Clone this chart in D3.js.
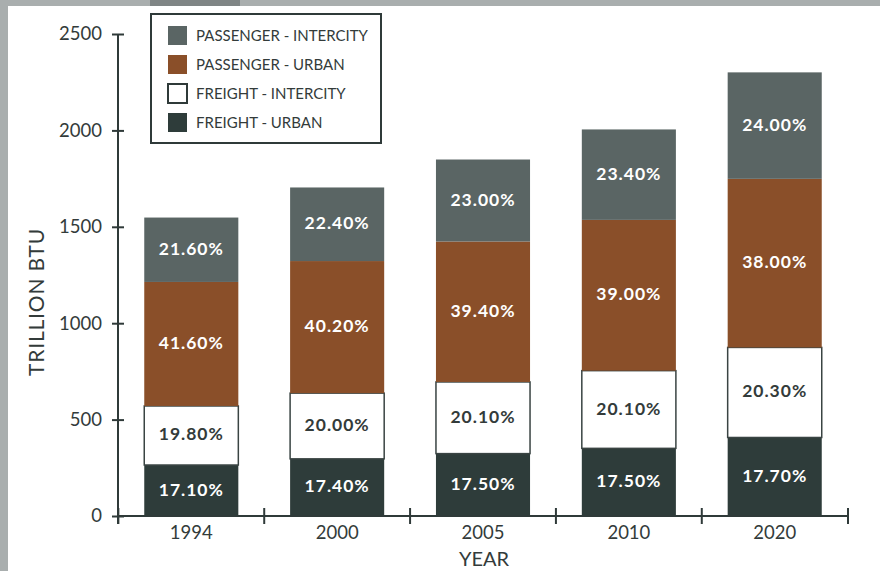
<!DOCTYPE html>
<html>
<head>
<meta charset="utf-8">
<script src="https://cdn.jsdelivr.net/npm/d3@7"></script>
<style>
  body { margin: 0; background: #a9aeae; }
  svg { display: block; font-family: Lato, "Open Sans", sans-serif; }
</style>
</head>
<body>
<svg width="880" height="571"></svg>
<script>
// values
var years = ['1994', '2000', '2005', '2010', '2020'];
var totals = [1548, 1704, 1849, 2005, 2301];          // trillion BTU, bar tops
var freightUrban = [17.1, 17.4, 17.5, 17.5, 17.7];     // % of total
var freightIntercity = [19.8, 20.0, 20.1, 20.1, 20.3];
var passengerUrban = [41.6, 40.2, 39.4, 39.0, 38.0];
var passengerIntercity = [21.6, 22.4, 23.0, 23.4, 24.0];
var yTicks = [0, 500, 1000, 1500, 2000, 2500];

var series = [
  { name: 'FREIGHT - URBAN', pct: freightUrban, fill: '#2e3c3a', text: '#fff' },
  { name: 'FREIGHT - INTERCITY', pct: freightIntercity, fill: '#ffffff', text: '#333b3a' },
  { name: 'PASSENGER - URBAN', pct: passengerUrban, fill: '#8a4f29', text: '#fff' },
  { name: 'PASSENGER - INTERCITY', pct: passengerIntercity, fill: '#5a6564', text: '#fff' }
];

// table for d3.stack: segment values from percentages of total
var table = years.map(function (y, i) {
  var row = { year: y };
  var sum = series.reduce(function (a, s) { return a + s.pct[i]; }, 0);
  series.forEach(function (s) { row[s.name] = totals[i] * s.pct[i] / sum; });
  return row;
});

var svg = d3.select('svg');
var axisCol = '#2f3a39';
var textCol = '#333b3a';

// paper panel
svg.append('rect').attr('width', 880).attr('height', 571).attr('fill', '#a9aeae');
svg.append('rect').attr('x', 150).attr('y', 0).attr('width', 90).attr('height', 6).attr('fill', '#7f8585');
svg.append('rect').attr('x', 8).attr('y', 6).attr('width', 872).attr('height', 565).attr('fill', '#ffffff');

var x = d3.scaleBand().domain(years).range([118, 848]).paddingInner(0.355).paddingOuter(0.18);
var y = d3.scaleLinear().domain([0, 2500]).range([516, 34]);

var stack = d3.stack().keys(series.map(function (s) { return s.name; }));
var layers = stack(table);

var g = svg.append('g');
layers.forEach(function (layer, li) {
  var s = series[li];
  var grp = g.append('g');
  grp.selectAll('rect').data(layer).enter().append('rect')
    .attr('x', function (d) { return x(d.data.year); })
    .attr('y', function (d) { return y(d[1]); })
    .attr('width', x.bandwidth())
    .attr('height', function (d) { return y(d[0]) - y(d[1]); })
    .attr('fill', s.fill)
    .attr('stroke', s.fill === '#ffffff' ? '#3a4443' : 'none')
    .attr('stroke-width', 1.5);
  grp.selectAll('text').data(layer).enter().append('text')
    .attr('x', function (d) { return x(d.data.year) + x.bandwidth() / 2; })
    .attr('y', function (d) { return (y(d[0]) + y(d[1])) / 2 + 5; })
    .attr('text-anchor', 'middle')
    .attr('font-size', 17.5)
    .attr('font-weight', 'bold')
    .attr('letter-spacing', 1)
    .attr('fill', s.text)
    .text(function (d, i) { return s.pct[i].toFixed(2) + '%'; });
});

// y axis: ticks cross the line
var yAxis = svg.append('g').attr('transform', 'translate(118,0)')
  .call(d3.axisLeft(y).tickValues(yTicks).tickFormat(d3.format('d'))
    .tickSizeInner(6).tickSizeOuter(0).tickPadding(10));
yAxis.selectAll('line').attr('x2', 6).attr('x1', -6);
yAxis.select('.domain').attr('d', 'M0,' + y(2500) + 'V' + (y(0) + 8));

// x axis: ticks at band boundaries
var xAxis = svg.append('g').attr('transform', 'translate(0,516)')
  .call(d3.axisBottom(x).tickSize(0).tickPadding(10));
var step = x.step();
var bounds = years.map(function (yr) { return x(yr) - (step - x.bandwidth()) / 2; });
bounds.push(848);
xAxis.selectAll('.bnd').data(bounds).enter().append('line')
  .attr('class', 'bnd')
  .attr('x1', function (d) { return d; }).attr('x2', function (d) { return d; })
  .attr('y1', -8).attr('y2', 8);
xAxis.select('.domain').attr('d', 'M118,0H848');

svg.selectAll('.domain, .tick line, .bnd').attr('stroke', axisCol).attr('stroke-width', 2);
svg.selectAll('.tick text').attr('fill', textCol).attr('font-size', 18.5)
  .attr('font-family', 'Lato, "Open Sans", sans-serif');

// axis titles
svg.append('text')
  .attr('transform', 'translate(44,302) rotate(-90)')
  .attr('text-anchor', 'middle').attr('font-size', 21).attr('letter-spacing', 0.8)
  .attr('fill', textCol)
  .text('TRILLION BTU');
svg.append('text')
  .attr('x', 484).attr('y', 566)
  .attr('text-anchor', 'middle').attr('font-size', 20).attr('fill', textCol)
  .text('YEAR');

// legend, top to bottom
var legendOrder = series.slice().reverse();
var lg = svg.append('g').attr('transform', 'translate(151,14)');
lg.append('rect').attr('width', 230).attr('height', 129)
  .attr('fill', '#fff').attr('stroke', axisCol).attr('stroke-width', 2);
var item = lg.selectAll('.item').data(legendOrder).enter().append('g')
  .attr('transform', function (d, i) { return 'translate(17,' + (12 + i * 29) + ')'; });
item.append('rect').attr('width', 19).attr('height', 19)
  .attr('fill', function (d) { return d.fill; })
  .attr('stroke', function (d) { return d.fill === '#ffffff' ? axisCol : 'none'; })
  .attr('stroke-width', 2);
item.append('text').attr('x', 28).attr('y', 15)
  .attr('font-size', 15).attr('fill', textCol)
  .text(function (d) { return d.name; });
</script>
</body>
</html>
